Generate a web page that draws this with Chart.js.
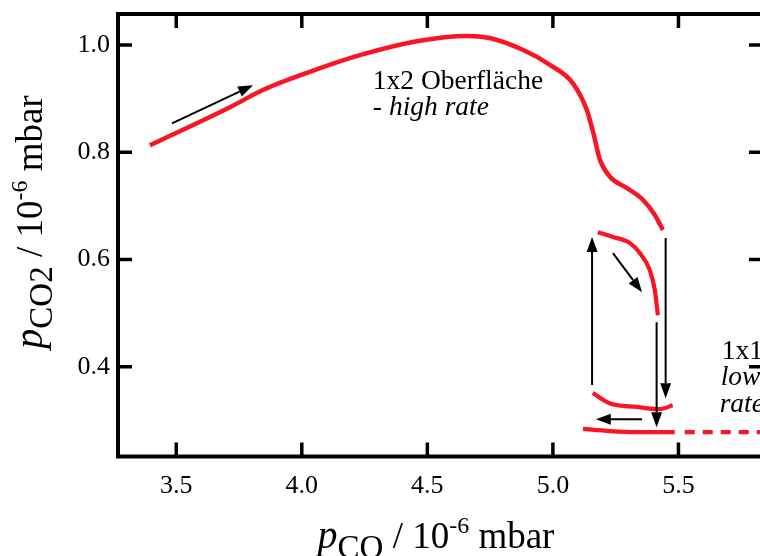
<!DOCTYPE html>
<html><head><meta charset="utf-8">
<script src="https://cdn.jsdelivr.net/npm/chart.js@4"></script>
<style>html,body{margin:0;padding:0;overflow:hidden;background:#fff;width:760px;height:556px}
canvas{display:block}</style></head>
<body><canvas id="c" width="770" height="556" style="width:770px;height:556px"></canvas>
<script>
// ---- data ----
const xTicks = [3.5, 4.0, 4.5, 5.0, 5.5];
const yTicks = [0.4, 0.6, 0.8, 1.0];

// 1x2 surface, high rate branch
const highX = [3.395,3.714,3.845,4.032,4.231,4.458,4.657,4.748,4.880,4.988,5.079,5.135,5.161,5.188,5.228,5.295,5.359,5.406,5.438];
const highY = [0.813,0.884,0.916,0.950,0.981,1.007,1.017,1.013,0.991,0.963,0.929,0.879,0.836,0.785,0.754,0.733,0.711,0.683,0.655];
// middle branch
const midX = [5.179,5.239,5.306,5.346,5.386,5.406,5.418];
const midY = [0.651,0.642,0.631,0.612,0.580,0.543,0.496];
// low-rate upper branch
const lowUpX = [5.159,5.226,5.334,5.425,5.477];
const lowUpY = [0.351,0.332,0.325,0.321,0.328];
// low-rate bottom branch (solid)
const lowBotX = [5.120,5.226,5.334,5.485];
const lowBotY = [0.284,0.280,0.278,0.278];
// low-rate bottom continuation (dashed)
const dashX = [5.525,5.90];
const dashY = [0.278,0.278];

// annotation arrows [x0,y0,x1(tip),y1(tip)] in data units
const arrows = [
  [3.483,0.854, 3.806,0.925],
  [5.156,0.366, 5.156,0.642],
  [5.239,0.612, 5.355,0.539],
  [5.449,0.640, 5.449,0.341],
  [5.413,0.483, 5.413,0.287],
  [5.355,0.302, 5.171,0.302]
];

const RED = '#fb1423';
const SERIF = '"Liberation Serif", "Times New Roman", serif';
const XMIN = 3.268, XMAX = 5.8367, YMIN = 0.2326, YMAX = 1.0578;

const pts = (xs, ys) => xs.map((x, i) => ({x, y: ys[i]}));
const lineDs = (xs, ys, w, dash) => ({
  data: pts(xs, ys), showLine: true, borderColor: RED, backgroundColor: RED,
  borderWidth: w, pointRadius: 0, cubicInterpolationMode: 'monotone',
  borderCapStyle: 'butt', borderDash: dash || []
});

function drawSegs(ctx, segs, cx, cy) {
  let total = 0;
  segs.forEach(s => { ctx.font = s.f; s.w = ctx.measureText(s.t).width; total += s.w; });
  let x = cx - total / 2;
  ctx.textAlign = 'left'; ctx.textBaseline = 'alphabetic';
  segs.forEach(s => { ctx.font = s.f; ctx.fillText(s.t, x, cy + s.dy); x += s.w; });
}

const decor = {
  id: 'decor',
  afterDraw(chart) {
    const {ctx, chartArea: a, scales: {x, y}} = chart;
    ctx.save();
    ctx.strokeStyle = '#000'; ctx.fillStyle = '#000';
    // frame
    ctx.lineWidth = 4;
    ctx.strokeRect(a.left, a.top, a.right - a.left, a.bottom - a.top);
    // inward ticks
    ctx.lineWidth = 3.5;
    ctx.beginPath();
    xTicks.forEach(v => {
      const px = x.getPixelForValue(v);
      ctx.moveTo(px, a.bottom); ctx.lineTo(px, a.bottom - 14);
      ctx.moveTo(px, a.top); ctx.lineTo(px, a.top + 14);
    });
    yTicks.forEach(v => {
      const py = y.getPixelForValue(v);
      ctx.moveTo(a.left, py); ctx.lineTo(a.left + 14, py);
      ctx.moveTo(a.right, py); ctx.lineTo(a.right - 14, py);
    });
    ctx.stroke();
    // arrows
    ctx.lineWidth = 2;
    arrows.forEach(([x0, y0, x1, y1]) => {
      const p0x = x.getPixelForValue(x0), p0y = y.getPixelForValue(y0);
      const p1x = x.getPixelForValue(x1), p1y = y.getPixelForValue(y1);
      const ang = Math.atan2(p1y - p0y, p1x - p0x);
      const L = 15, H = 5.5;
      const bx = p1x - L * Math.cos(ang), by = p1y - L * Math.sin(ang);
      ctx.beginPath(); ctx.moveTo(p0x, p0y); ctx.lineTo(bx, by); ctx.stroke();
      ctx.beginPath();
      ctx.moveTo(p1x, p1y);
      ctx.lineTo(bx + H * Math.sin(ang), by - H * Math.cos(ang));
      ctx.lineTo(bx - H * Math.sin(ang), by + H * Math.cos(ang));
      ctx.closePath(); ctx.fill();
    });
    // annotations
    ctx.textAlign = 'left'; ctx.textBaseline = 'alphabetic';
    const fR = '27.5px ' + SERIF, fI = 'italic 27.5px ' + SERIF;
    ctx.font = fR;
    ctx.fillText('1x2 Oberfläche', x.getPixelForValue(4.283), y.getPixelForValue(0.918));
    let hx = x.getPixelForValue(4.283), hy = y.getPixelForValue(0.869);
    ctx.fillText('- ', hx, hy); hx += ctx.measureText('- ').width;
    ctx.font = fI; ctx.fillText('high rate', hx, hy);
    ctx.font = fR;
    ctx.fillText('1x1', x.getPixelForValue(5.672), y.getPixelForValue(0.414));
    ctx.font = fI;
    ctx.fillText('low', x.getPixelForValue(5.668), y.getPixelForValue(0.366));
    ctx.fillText('rate', x.getPixelForValue(5.664), y.getPixelForValue(0.315));
    // axis titles
    const mainF = '37px ' + SERIF, pF = 'italic 40px ' + SERIF, subF = '33px ' + SERIF, supF = '24px ' + SERIF;
    drawSegs(ctx, [
      {t: 'p', f: pF, dy: 0}, {t: 'CO', f: subF, dy: 10},
      {t: ' / 10', f: mainF, dy: 0}, {t: '-6', f: supF, dy: -15},
      {t: ' mbar', f: mainF, dy: 0}
    ], 436, 548);
    ctx.translate(42, 222);
    ctx.rotate(-Math.PI / 2);
    drawSegs(ctx, [
      {t: 'p', f: pF, dy: 0}, {t: 'CO2', f: subF, dy: 10},
      {t: ' / 10', f: mainF, dy: 0}, {t: '-6', f: supF, dy: -15},
      {t: ' mbar', f: mainF, dy: 0}
    ], 0, 0);
    ctx.restore();
  }
};

new Chart(document.getElementById('c'), {
  type: 'scatter',
  data: {datasets: [
    lineDs(highX, highY, 4.5),
    lineDs(midX, midY, 4.2),
    lineDs(lowUpX, lowUpY, 4.2),
    lineDs(lowBotX, lowBotY, 4.2),
    lineDs(dashX, dashY, 4.2, [10, 8])
  ]},
  options: {
    responsive: false, animation: false, devicePixelRatio: 1,
    layout: {padding: {left: 0, right: 7, top: 14, bottom: 0}},
    plugins: {legend: {display: false}, tooltip: {enabled: false}},
    scales: {
      x: {
        type: 'linear', min: XMIN, max: XMAX,
        grid: {display: false, drawTicks: false}, border: {display: false},
        afterBuildTicks: s => { s.ticks = xTicks.map(v => ({value: v})); },
        afterFit: s => { s.height = 99.5; s.paddingLeft = 0; s.paddingRight = 0; },
        ticks: {padding: 14, color: '#000', font: {family: SERIF, size: 26},
                maxRotation: 0, autoSkip: false, callback: v => v.toFixed(1)}
      },
      y: {
        type: 'linear', min: YMIN, max: YMAX,
        grid: {display: false, drawTicks: false}, border: {display: false},
        afterBuildTicks: s => { s.ticks = yTicks.map(v => ({value: v})); },
        afterFit: s => { s.width = 118; s.paddingTop = 0; s.paddingBottom = 0; },
        ticks: {padding: 8, color: '#000', font: {family: SERIF, size: 26},
                autoSkip: false, callback: v => v.toFixed(1)}
      }
    }
  },
  plugins: [decor]
});
</script>
</body></html>
